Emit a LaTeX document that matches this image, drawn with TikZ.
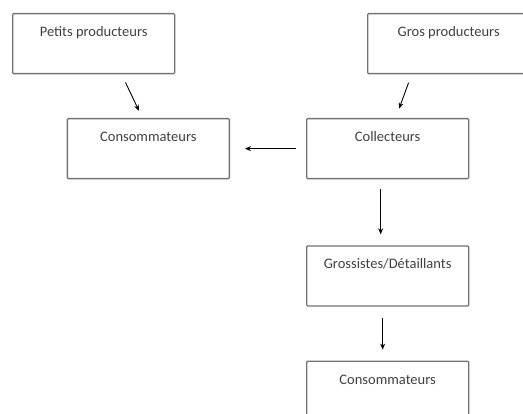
\documentclass[tikz,border=0pt]{standalone}
\usepackage{fontspec}
\setmainfont{Carlito}
\usetikzlibrary{positioning}
\usetikzlibrary{arrows.meta}

\begin{document}
\begin{tikzpicture}[x=1pt, y=-1pt, >={Stealth[length=6pt, width=5pt]},
                    boxnode/.style={rectangle, draw=black!55, line width=1.3pt, rounded corners=1pt,
                                    minimum width=162pt, inner sep=0pt,
                                    text height=23pt, text depth=37pt, font=\fontsize{14.5}{16}\selectfont,
                                    text=black!75},
                    flow/.style={->, line width=0.9pt},
                   ]
  \useasboundingbox (0,0) rectangle (523,414);
  %Nodes
  \node[boxnode, anchor=north west] (petits) at (12,13)  {Petits producteurs};
  \node[boxnode, anchor=north west] (gros)   at (367,13) {Gros producteurs};
  \node[boxnode, anchor=north west] (collecteurs) at (306,118) {Collecteurs};
  \node[boxnode] (conso1)     [left=76pt of collecteurs]  {Consommateurs};
  \node[boxnode] (grossistes) [below=66pt of collecteurs] {Grossistes/Détaillants};
  \node[boxnode] (conso2)     [below=54pt of grossistes]  {Consommateurs};

  %Lines
  \draw[flow, shorten <=9pt, shorten >=8pt] ([xshift=28pt]petits.south) -- ([xshift=-6pt]conso1.north);
  \draw[flow, shorten <=9pt, shorten >=10pt] ([xshift=-37pt]gros.south) -- ([xshift=8pt]collecteurs.north);
  \draw[flow, shorten <=10pt, shorten >=15pt] (collecteurs.west) -- (conso1.east);
  \draw[flow, shorten <=10pt, shorten >=11pt] ([xshift=-7pt]collecteurs.south) -- ([xshift=-7pt]grossistes.north);
  \draw[flow, shorten <=11pt, shorten >=11pt] ([xshift=-5pt]grossistes.south) -- ([xshift=-5pt]conso2.north);
\end{tikzpicture}
\end{document}
